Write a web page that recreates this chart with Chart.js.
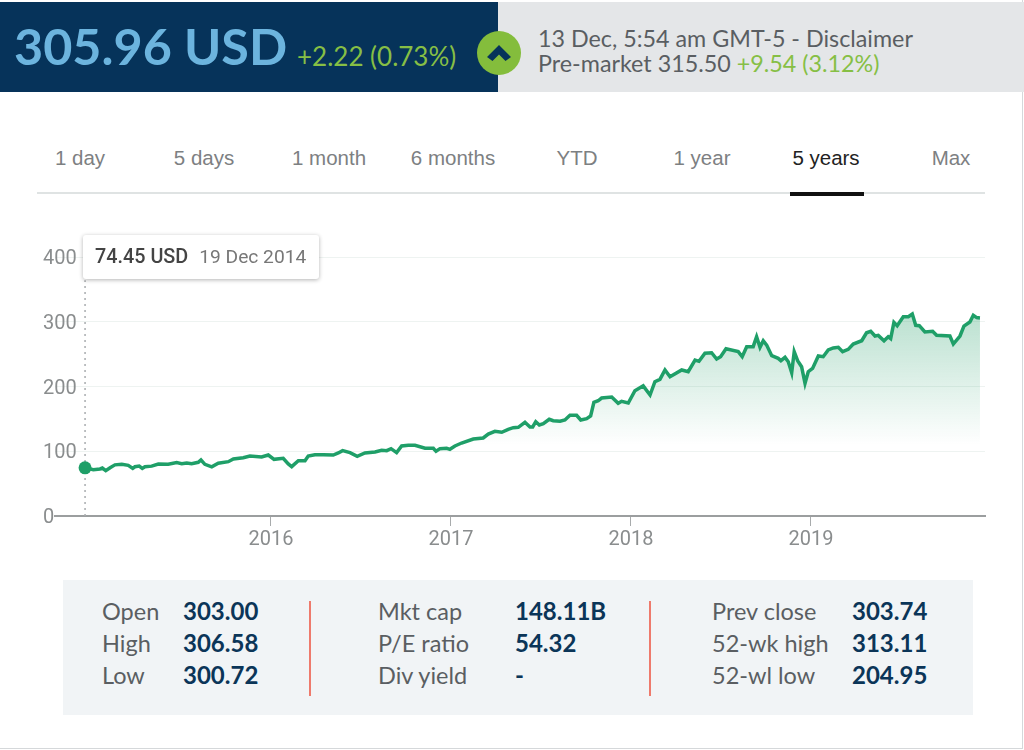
<!DOCTYPE html>
<html>
<head>
<meta charset="utf-8">
<title>305.96 USD</title>
<script src="https://cdn.jsdelivr.net/npm/chart.js@4"></script>
<style>
  html, body { margin: 0; padding: 0; background: #fff; }
  body { position: relative; width: 1024px; height: 750px; overflow: hidden; font-family: Lato, sans-serif; }
  .abs { position: absolute; white-space: nowrap; }
  .frame { left: 0; top: 0; width: 1022px; height: 748px; border-right: 1px solid #d5d8da; border-bottom: 1px solid #d5d8da; }
  .head-l { left: 0; top: 2px; width: 498px; height: 90px; background: #06335a; }
  .head-r { left: 498px; top: 2px; width: 526px; height: 90px; background: #e4e6e8; }
  .price { left: 14px; top: 18px; font-size: 50.3px; line-height: 56px; font-weight: 700; color: #6cb4de; }
  .change { left: 297px; top: 41px; font-size: 26px; line-height: 30px; color: #86bf45; }
  .info { left: 538px; font-size: 23.3px; line-height: 28px; color: #5a5e62; }
  .info b { font-weight: 400; color: #86bf45; }
  .tab { top: 145px; font-family: "Liberation Sans", Arial, sans-serif; font-size: 20.5px; line-height: 26px; color: #7d8082; transform: translateX(-50%); }
  .tab.on { color: #222; }
  .tabline { left: 37px; top: 192px; width: 948px; height: 2px; background: #dfe3e3; }
  .tabon { left: 790px; top: 192px; width: 74px; height: 4px; background: #111; }
  #chartWrap { left: 30px; top: 240px; width: 970px; height: 310px; }
  .tip { left: 83px; top: 235px; width: 236px; height: 44px; background: #fff; border-radius: 3px; box-shadow: 0 1px 4px rgba(0,0,0,.3); font-family: Roboto, sans-serif; font-size: 19.2px; line-height: 44px; color: #777; }
  .tip b { font-size: 19.8px; font-weight: 500; color: #444; margin: 0 11px 0 12px; }
  .stats { left: 63px; top: 580px; width: 910px; height: 135px; background: #f1f4f6; }
  .lbl { font-size: 23.5px; line-height: 28px; color: #5a5e62; }
  .val { font-size: 24px; line-height: 28px; font-weight: 700; color: #0b3558; }
  .sep { top: 601px; width: 2px; height: 95px; background: #ee7a6c; }
</style>
</head>
<body>
<div class="abs frame"></div>
<div class="abs head-l"></div>
<div class="abs head-r"></div>
<div class="abs price">305.96 USD</div>
<div class="abs change">+2.22 (0.73%)</div>
<svg class="abs" style="left:477px;top:31px" width="44" height="44" viewBox="0 0 44 44">
  <circle cx="22" cy="22" r="22" fill="#84bd3c"/>
  <path d="M10 26 L22 14 L34 26 L28.5 30 L22 23.5 L15.5 30 Z" fill="#06335a"/>
</svg>
<div class="abs info" style="top:24px">13 Dec, 5:54 am GMT-5 - Disclaimer</div>
<div class="abs info" style="top:49px">Pre-market 315.50 <b>+9.54 (3.12%)</b></div>
<div id="tabs"></div>
<div class="abs tabline"></div>
<div class="abs tabon"></div>
<div class="abs" id="chartWrap"><canvas id="chart" width="970" height="310"></canvas></div>
<div class="abs tip"><b>74.45 USD</b>19 Dec 2014</div>
<div class="abs stats"></div>
<div class="abs sep" style="left:309px"></div>
<div class="abs sep" style="left:649px"></div>
<div id="statRows"></div>

<script>
// ── Data ─────────────────────────────────────────────────────
const tabNames   = ['1 day', '5 days', '1 month', '6 months', 'YTD', '1 year', '5 years', 'Max'];
const tabCenters = [80, 204, 329, 453, 577, 702, 826, 951];

const statLabels = ['Open', 'High', 'Low', 'Mkt cap', 'P/E ratio', 'Div yield', 'Prev close', '52-wk high', '52-wl low'];
const statValues = ['303.00', '306.58', '300.72', '148.11B', '54.32', '-', '303.74', '313.11', '204.95'];

const yearTicks  = [2016, 2017, 2018, 2019];
const priceTicks = [0, 100, 200, 300, 400];

const dates = [
  2014.967, 2015.013, 2015.05, 2015.063, 2015.082, 2015.106, 2015.133, 2015.171, 2015.207, 2015.232,
  2015.244, 2015.268, 2015.285, 2015.30, 2015.337, 2015.374, 2015.429, 2015.476, 2015.504, 2015.532,
  2015.559, 2015.596, 2015.611, 2015.633, 2015.671, 2015.707, 2015.763, 2015.791, 2015.846, 2015.883,
  2015.948, 2015.985, 2016.017, 2016.068, 2016.096, 2016.115, 2016.152, 2016.189, 2016.207, 2016.244,
  2016.291, 2016.346, 2016.374, 2016.398, 2016.439, 2016.479, 2016.522, 2016.578, 2016.615, 2016.643,
  2016.667, 2016.698, 2016.726, 2016.763, 2016.80, 2016.856, 2016.902, 2016.917, 2016.939, 2016.976,
  2016.994, 2017.022, 2017.059, 2017.124, 2017.179, 2017.207, 2017.244, 2017.282, 2017.318, 2017.346,
  2017.374, 2017.411, 2017.439, 2017.454, 2017.471, 2017.491, 2017.513, 2017.546, 2017.568, 2017.606,
  2017.633, 2017.661, 2017.698, 2017.721, 2017.754, 2017.776, 2017.794, 2017.818, 2017.837, 2017.893,
  2017.929, 2017.948, 2017.985, 2018.022, 2018.068, 2018.106, 2018.133, 2018.161, 2018.189, 2018.217,
  2018.282, 2018.318, 2018.356, 2018.378, 2018.411, 2018.448, 2018.476, 2018.498, 2018.528, 2018.596,
  2018.618, 2018.643, 2018.679, 2018.698, 2018.717, 2018.735, 2018.754, 2018.782, 2018.818, 2018.833,
  2018.856, 2018.874, 2018.893, 2018.907, 2018.926, 2018.948, 2018.967, 2018.985, 2019.009, 2019.041,
  2019.068, 2019.096, 2019.124, 2019.152, 2019.176, 2019.207, 2019.235, 2019.282, 2019.309, 2019.332,
  2019.356, 2019.374, 2019.406, 2019.429, 2019.443, 2019.461, 2019.479, 2019.513, 2019.541, 2019.563,
  2019.582, 2019.602, 2019.633, 2019.676, 2019.698, 2019.772, 2019.791, 2019.828, 2019.85, 2019.883,
  2019.902, 2019.921, 2019.939,
];
const prices = [
  74.45, 71.5, 72.6, 74, 70, 74.6, 79, 79.8, 78.3, 73.6,
  76, 77, 73.6, 76, 77, 80.3, 79.8, 82.4, 80.8, 81.9,
  80.8, 82.9, 86.5, 79.8, 76, 81.4, 83.9, 88, 90, 92.7,
  91.1, 94.2, 87.5, 89, 80.3, 76.2, 85.4, 85.4, 92.7, 94.7,
  94.7, 94.2, 97.3, 100.9, 97.8, 92.2, 97.3, 98.8, 101.5, 100.9,
  104, 97.8, 108.1, 109.2, 109.2, 104.6, 104.6, 99.9, 104, 104.6,
  103, 108.1, 112.7, 118.9, 120.5, 126.6, 130.8, 129.3, 133.9, 136.4,
  137, 144.7, 137.5, 137.5, 145.6, 140.5, 142.5, 149.3, 147.2, 146.3,
  148.3, 155.5, 155.5, 148.3, 150.3, 154.4, 175.6, 178, 182.2, 183.8,
  174, 177.1, 174.5, 193.5, 201, 186.9, 207.4, 211.1, 225.5, 215,
  225.5, 222.9, 240.9, 238.9, 251.3, 252.2, 242.5, 246, 258.4, 253.8,
  246, 261.5, 261.5, 276.9, 260.5, 270.7, 264, 247.6, 243.5, 239.9,
  245, 238.3, 221.3, 253.8, 239.9, 230.6, 204.9, 222.9, 228, 247.1,
  246, 256.4, 259.5, 260.5, 253.8, 257.4, 265.6, 270.7, 283, 285.2,
  278, 279, 270.7, 276.9, 273.8, 299, 293.9, 307.8, 307.8, 312,
  294.5, 293.9, 284.2, 285.2, 279, 278, 265.6, 278, 293.4, 299.6,
  310, 306.4, 305.96,
];

// Dotted guide under the tooltip
const guideDates  = [2014.967, 2014.967];
const guidePrices = [0, 364];

// ── Page text ────────────────────────────────────────────────
document.getElementById('tabs').innerHTML = tabNames.map((t, i) =>
  `<div class="abs tab${t === '5 years' ? ' on' : ''}" style="left:${tabCenters[i]}px">${t}</div>`).join('');

const labelX = [102, 378, 712];
const valueX = [183, 515, 852];
const rowY   = [597, 629, 661];
document.getElementById('statRows').innerHTML = statLabels.map((t, i) => {
  const col = Math.floor(i / 3), row = i % 3;
  return `<div class="abs lbl" style="left:${labelX[col]}px;top:${rowY[row]}px">${t}</div>` +
         `<div class="abs val" style="left:${valueX[col]}px;top:${rowY[row]}px">${statValues[i]}</div>`;
}).join('');

// ── Area fill fades out towards the lower part of the plot ───
function areaFill(ctx) {
  const { chart } = ctx;
  if (!chart.chartArea) return 'transparent';
  const y = chart.scales.y;
  const g = chart.ctx.createLinearGradient(0, y.getPixelForValue(310), 0, y.getPixelForValue(110));
  g.addColorStop(0, 'rgba(30,155,100,0.3)');
  g.addColorStop(1, 'rgba(30,155,100,0)');
  return g;
}

// ── Chart ────────────────────────────────────────────────────
new Chart(document.getElementById('chart').getContext('2d'), {
  type: 'line',
  data: {
    datasets: [
      {
        data: dates.map((d, i) => ({ x: d, y: prices[i] })),
        borderColor: '#1f9f68',
        borderWidth: 3.5,
        backgroundColor: areaFill,
        fill: 'origin',
        tension: 0,
        pointRadius: ctx => ctx.dataIndex === 0 ? 6.5 : 0,
        pointBackgroundColor: '#1f9f68',
        pointBorderWidth: 0,
      },
      {
        data: guideDates.map((d, i) => ({ x: d, y: guidePrices[i] })),
        borderColor: '#a9adaf',
        borderWidth: 1.5,
        borderDash: [2, 4],
        pointRadius: 0,
        fill: false,
      },
    ],
  },
  options: {
    responsive: false,
    animation: false,
    events: [],
    layout: { padding: { left: 25, right: 15, top: 17, bottom: 0 } },
    plugins: { legend: { display: false }, tooltip: { enabled: false } },
    scales: {
      x: {
        type: 'linear',
        min: 2014.8,
        max: 2019.967,
        afterFit: s => { s.height = 34; },
        afterBuildTicks: s => { s.ticks = yearTicks.map(v => ({ value: v })); },
        border: { color: '#9b9e9f', width: 2 },
        grid: { drawOnChartArea: false, drawTicks: true, tickLength: 10, color: '#a8abac', lineWidth: 1 },
        ticks: {
          color: '#8a8d8e',
          padding: 2,
          maxRotation: 0,
          font: { family: 'Roboto, sans-serif', size: 20 },
          callback: v => String(v),
        },
      },
      y: {
        min: 0,
        max: 400,
        afterFit: s => { s.width = 0; },
        afterBuildTicks: s => { s.ticks = priceTicks.map(v => ({ value: v })); },
        border: { display: false },
        grid: { color: '#eef3f1', lineWidth: 1, drawTicks: false },
        ticks: {
          mirror: true,
          padding: -12,
          labelOffset: 2,
          color: '#8a8d8e',
          font: { family: 'Roboto, sans-serif', size: 20 },
          callback: v => String(v),
        },
      },
    },
  },
});
</script>
</body>
</html>
